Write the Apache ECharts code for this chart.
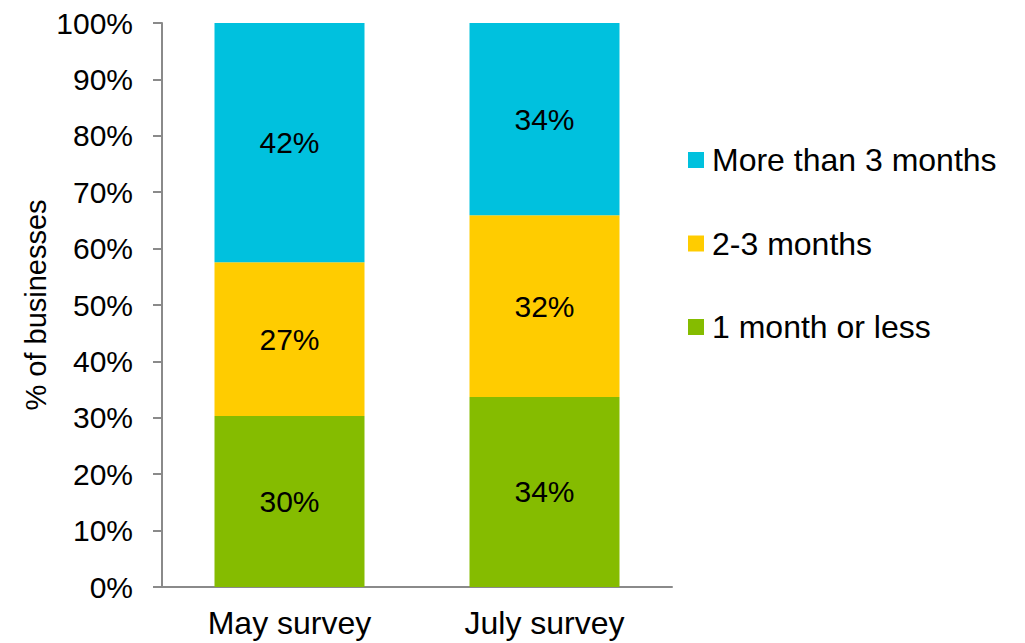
<!DOCTYPE html>
<html>
<head>
<meta charset="utf-8">
<script src="https://cdn.jsdelivr.net/npm/echarts@6/dist/echarts.min.js"></script>
<style>
  html, body { margin: 0; padding: 0; background: #ffffff; }
  #chart { width: 1025px; height: 643px; }
</style>
</head>
<body>
<div id="chart"></div>
<script>
// Survey waves shown along the x axis
const surveys = ['May survey', 'July survey'];

// Share of businesses (%) by how long their cash reserves would last
const oneMonthOrLess = [30.3, 33.7];
const twoToThreeMonths = [27.3, 32.2];
const moreThanThreeMonths = [42.4, 34.1];

const seriesNames = ['1 month or less', '2-3 months', 'More than 3 months'];
const seriesColors = ['#85BC00', '#FFCC00', '#00C1DE'];

const FONT = '"Liberation Sans", Arial, Helvetica, sans-serif';
const AXIS_GREY = '#8A8A8A';

function stackedSeries(name, values, color) {
  return {
    name: name,
    type: 'bar',
    stack: 'total',
    barWidth: 150,
    data: values,
    itemStyle: { color: color },
    label: {
      show: true,
      position: 'inside',
      color: '#000000',
      fontFamily: FONT,
      fontSize: 30,
      formatter: p => Math.round(p.value) + '%'
    },
    emphasis: { disabled: true }
  };
}

const chart = echarts.init(document.getElementById('chart'), null, { renderer: 'svg' });

chart.setOption({
  animation: false,
  backgroundColor: '#ffffff',
  grid: { left: 162, right: 353, top: 23, bottom: 56, containLabel: false },
  legend: {
    orient: 'vertical',
    left: 683,
    top: 139,
    itemWidth: 16,
    itemHeight: 16,
    itemGap: 51.5,
    icon: 'rect',
    data: [seriesNames[2], seriesNames[1], seriesNames[0]],
    textStyle: { fontFamily: FONT, fontSize: 32, color: '#000000', lineHeight: 32, padding: [0, 0, 0, 3] },
    selectedMode: false
  },
  xAxis: {
    type: 'category',
    data: surveys,
    axisLine: { show: true, lineStyle: { color: AXIS_GREY, width: 2 } },
    axisTick: { show: false },
    axisLabel: { fontFamily: FONT, fontSize: 32, color: '#000000', margin: 20 }
  },
  yAxis: {
    type: 'value',
    min: 0,
    max: 100,
    interval: 10,
    name: '% of businesses',
    nameLocation: 'middle',
    nameGap: 112,
    nameRotate: 90,
    nameTextStyle: { fontFamily: FONT, fontSize: 29, color: '#000000' },
    axisLine: { show: true, lineStyle: { color: AXIS_GREY, width: 2 } },
    axisTick: { show: true, inside: false, length: 9, lineStyle: { color: AXIS_GREY, width: 2 } },
    axisLabel: { fontFamily: FONT, fontSize: 30, color: '#000000', margin: 29, formatter: '{value}%' },
    splitLine: { show: false }
  },
  series: [
    stackedSeries(seriesNames[0], oneMonthOrLess, seriesColors[0]),
    stackedSeries(seriesNames[1], twoToThreeMonths, seriesColors[1]),
    stackedSeries(seriesNames[2], moreThanThreeMonths, seriesColors[2])
  ]
});
</script>
</body>
</html>
